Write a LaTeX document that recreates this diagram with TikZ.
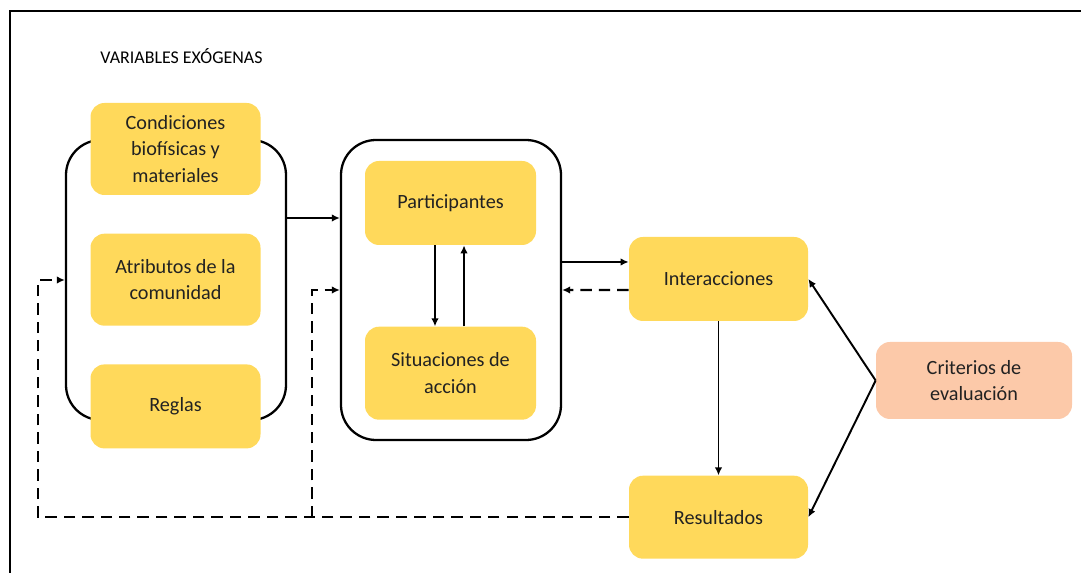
\documentclass[tikz,border=0pt]{standalone}
\usepackage{fontspec}
\setmainfont{Carlito}
\usepackage{tikz}
\usetikzlibrary{arrows.meta,positioning}

\definecolor{amarillo}{HTML}{FFD95B}
\definecolor{salmon}{HTML}{FCC9A9}
\definecolor{texto}{HTML}{222222}

\begin{document}
\begin{tikzpicture}[
  > = {Latex[length=1.6mm,width=1.5mm]},
  var/.style = {rectangle, fill=amarillo, rounded corners=0.28cm,
                align=center, text=texto, minimum width=3.4cm,
                font=\fontsize{11.5}{15}\selectfont},
  eval/.style = {var, fill=salmon, minimum width=3.92cm, minimum height=1.54cm},
  marco/.style = {rectangle, draw, line width=1.3pt, rounded corners=0.7cm,
                  minimum width=4.4cm},
  flecha/.style = {->, line width=1.1pt},
  retro/.style = {->, line width=1.3pt, dash pattern=on 6.5pt off 4pt}
]
\useasboundingbox (0,0) rectangle (21.62,11.46);
% frame
\draw[line width=1.2pt] (0.2,0) -- (0.2,11.24) -- (21.62,11.24);

\node[font=\fontsize{10.2}{12}\selectfont, text=black] (titulo) at (3.63,10.34) {VARIABLES EXÓGENAS};

% groups
\node[marco, minimum height=5.6cm] (exog) at (3.52,5.86) {};
\node[marco, minimum height=6cm] (arena) at (9.02,5.66) {};

% exogenous variables
\node[var, minimum height=1.84cm] (cond) at (3.51,8.48) {Condiciones\\biofísicas y\\materiales};
\node[var, minimum height=1.84cm, below=0.76cm of cond] (atrib) {Atributos de la\\comunidad};
\node[var, minimum height=1.68cm, below=0.76cm of atrib] (reglas) {Reglas};

% action arena
\node[var, minimum width=3.42cm, minimum height=1.68cm] (part) at (9.01,7.40) {Participantes};
\node[var, minimum width=3.42cm, minimum height=1.86cm, below=1.62cm of part] (situ) {Situaciones de\\acción};

% outcomes
\node[var, minimum width=3.58cm, minimum height=1.68cm] (inter) at (14.37,5.88) {Interacciones};
\node[var, minimum width=3.58cm, minimum height=1.66cm, below=3.08cm of inter] (result) {Resultados};
\node[eval] (crit) at (19.48,3.85) {Criterios de\\evaluación};

% arrows
\draw[flecha] ([yshift=1.24cm]exog.east) -- ([yshift=1.44cm]arena.west);
\draw[flecha] ([xshift=-0.31cm]part.south) -- ([xshift=-0.31cm]situ.north);
\draw[flecha] ([xshift=0.27cm]situ.north) -- ([xshift=0.27cm]part.south);
\draw[flecha] ([yshift=0.56cm]arena.east) -- ([yshift=0.34cm]inter.west);
\draw[retro] ([yshift=-0.22cm]inter.west) -- (arena.east);
\draw[flecha] (inter) -- (result);
\draw[flecha] (crit.west) -- (inter.east);
\draw[flecha] (crit.west) -- (result.east);

% feedback
\coordinate (retexo) at ([xshift=-0.54cm]exog.west);
\coordinate (retarena) at ([xshift=-0.56cm]arena.west);
\draw[retro] (result.west) -| (retexo) -- (exog.west);
\draw[retro] (retarena |- result.west) -- (retarena) -- (arena.west);
\end{tikzpicture}
\end{document}
